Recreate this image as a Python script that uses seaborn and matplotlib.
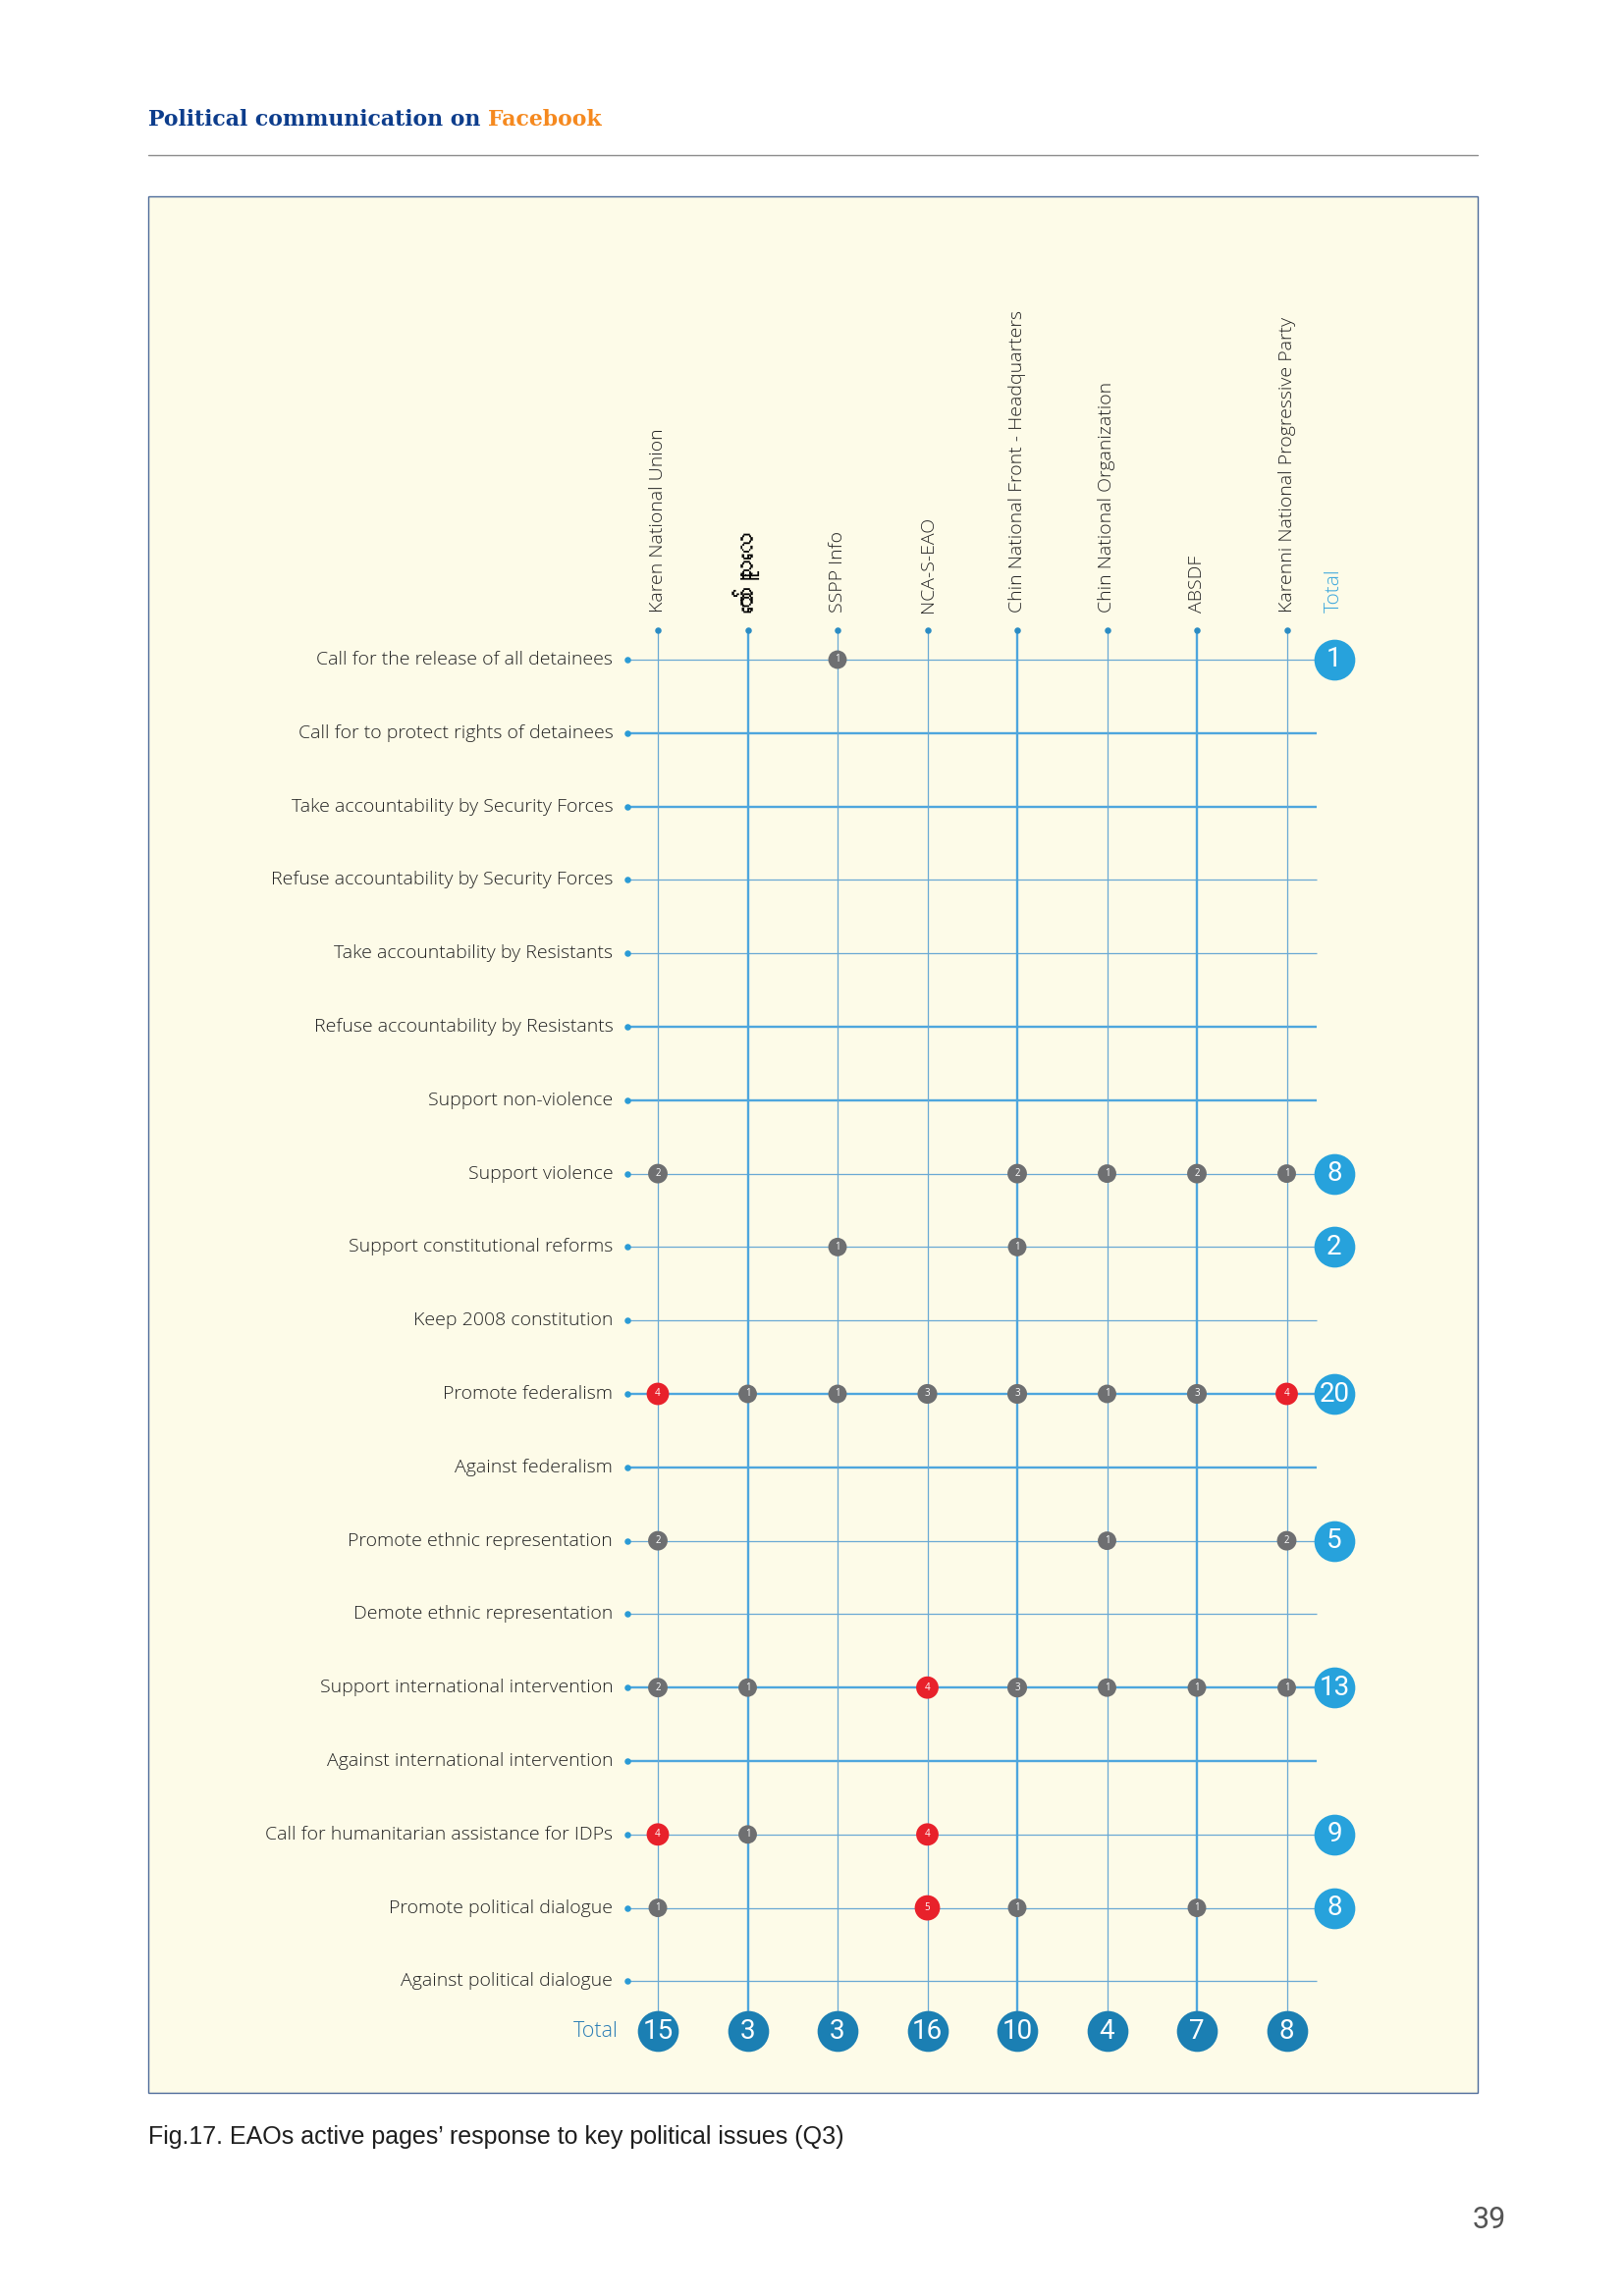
import matplotlib
matplotlib.use('Agg')
import matplotlib.pyplot as plt
import pandas as pd
import seaborn as sns
from matplotlib import font_manager
from matplotlib.ft2font import FT2Font
from matplotlib.patches import Rectangle
from matplotlib.lines import Line2D

# Data
issues = ['Call for the release of all detainees',
          'Call for to protect rights of detainees',
          'Take accountability by Security Forces',
          'Refuse accountability by Security Forces',
          'Take accountability by Resistants',
          'Refuse accountability by Resistants',
          'Support non-violence',
          'Support violence',
          'Support constitutional reforms',
          'Keep 2008 constitution',
          'Promote federalism',
          'Against federalism',
          'Promote ethnic representation',
          'Demote ethnic representation',
          'Support international intervention',
          'Against international intervention',
          'Call for humanitarian assistance for IDPs',
          'Promote political dialogue',
          'Against political dialogue']
pages = ['Karen National Union', 'ကော်သူးလေ', 'SSPP Info', 'NCA-S-EAO',
         'Chin National Front - Headquarters', 'Chin National Organization',
         'ABSDF', 'Karenni National Progressive Party']

# posts per issue for each page (0 = none)
knu   = [0, 0, 0, 0, 0, 0, 0, 2, 0, 0, 4, 0, 2, 0, 2, 0, 4, 1, 0]
mm    = [0, 0, 0, 0, 0, 0, 0, 0, 0, 0, 1, 0, 0, 0, 1, 0, 1, 0, 0]
sspp  = [1, 0, 0, 0, 0, 0, 0, 0, 1, 0, 1, 0, 0, 0, 0, 0, 0, 0, 0]
nca   = [0, 0, 0, 0, 0, 0, 0, 0, 0, 0, 3, 0, 0, 0, 4, 0, 4, 5, 0]
cnf   = [0, 0, 0, 0, 0, 0, 0, 2, 1, 0, 3, 0, 0, 0, 3, 0, 0, 1, 0]
cno   = [0, 0, 0, 0, 0, 0, 0, 1, 0, 0, 1, 0, 1, 0, 1, 0, 0, 0, 0]
absdf = [0, 0, 0, 0, 0, 0, 0, 2, 0, 0, 3, 0, 0, 0, 1, 0, 0, 1, 0]
knpp  = [0, 0, 0, 0, 0, 0, 0, 1, 0, 0, 4, 0, 2, 0, 1, 0, 0, 0, 0]

counts = pd.DataFrame({p: c for p, c in zip(pages, [knu, mm, sspp, nca, cnf, cno, absdf, knpp])},
                      index=issues)

# long table of the cells with posts
df = counts.reset_index(names='issue').melt(id_vars='issue', var_name='page', value_name='n')
df = df[df['n'] > 0].copy()
df['x'] = df['page'].map({p: i for i, p in enumerate(pages)})
df['y'] = df['issue'].map({s: i for i, s in enumerate(issues)})
df['level'] = df['n'].apply(lambda v: 'high' if v >= 4 else 'low')

row_tot = counts.sum(axis=1)
col_tot = counts.sum(axis=0)


def find_myanmar_font():
    # look for any installed family that covers the Myanmar block
    for f in font_manager.fontManager.ttflist:
        try:
            if 0x1000 in FT2Font(f.fname).get_charmap():
                return f.name
        except Exception:
            pass
    return None


# Style
sns.set_theme(style='white')
plt.rcParams['font.family'] = ['Open Sans', 'DejaVu Sans']
mm_font = find_myanmar_font()
label_fam = ['Open Sans', 'DejaVu Sans'] + ([mm_font] if mm_font else [])

W, H = 1654, 2339
fig = plt.figure(figsize=(W / 100, H / 100), dpi=100)
fig.patch.set_facecolor('white')

# panel box
fig.patches.append(Rectangle((151 / W, 1 - 2132 / H), (1505 - 151) / W, (2132 - 200) / H,
                             transform=fig.transFigure, facecolor='#fdfbe8',
                             edgecolor='#4d6b99', lw=1.0, zorder=-5))

# header
t1 = fig.text(151 / W, 1 - 122 / H, 'Political communication on ', family='DejaVu Serif',
              fontweight='bold', fontsize=15.8, color='#0d3d8c', va='center')
fig.canvas.draw()
bb = t1.get_window_extent()
fig.text(bb.x1 / W, 1 - 122 / H, 'Facebook', family='DejaVu Serif', fontweight='bold',
         fontsize=15.8, color='#f5891f', va='center')
fig.add_artist(Line2D([151 / W, 1505 / W], [1 - 158 / H] * 2, color='#8c8c8c', lw=1.0))

ax = fig.add_axes([578.5 / W, 1 - 2130.6 / H, 915 / W, (2130.6 - 597.2) / H])
ax.set_zorder(2)
ax.set_xlim(-1, 9)
ax.set_ylim(19.5, -1)
ax.axis('off')
ax.patch.set_alpha(0)

tot_x = 7.53
tot_y = 18.68
line_left = -0.34
line_right = 7.33
col_top = -0.40

thick_cols = [1, 4, 6]
thick_rows = [1, 2, 5, 6, 10, 11, 14, 15]

for j in range(len(issues)):
    thick = j in thick_rows
    ax.hlines(j, line_left, line_right, color='#4ea6dd' if thick else '#6aa9d4',
              lw=1.7 if thick else 0.9, zorder=1)
    ax.text(line_left - 0.16, j, issues[j], ha='right', va='center', fontsize=14,
            fontweight='light', color='#222222')
for i in range(len(pages)):
    thick = i in thick_cols
    ax.vlines(i, col_top, tot_y, color='#4ea6dd' if thick else '#6aa9d4',
              lw=1.7 if thick else 0.9, zorder=1)
    is_mm = any(0x1000 <= ord(ch) < 0x10A0 for ch in pages[i])
    ax.text(i, col_top - 0.24, pages[i], rotation=90, ha='center', va='bottom',
            fontsize=20 if is_mm else 14, fontweight='bold' if is_mm else 'light',
            color='#000000' if is_mm else '#222222', family=label_fam)

# small end dots
ax.scatter([line_left] * len(issues), range(len(issues)), s=22, color='#2b9bd6', zorder=2, lw=0)
ax.scatter(range(len(pages)), [col_top] * len(pages), s=22, color='#2b8cc4', zorder=2, lw=0)

# cell bubbles
sns.scatterplot(data=df, x='x', y='y', hue='level', size='n',
                sizes={1: 185, 2: 205, 3: 210, 4: 270, 5: 345},
                palette={'low': '#6e6f71', 'high': '#e8212b'},
                linewidth=0, legend=False, ax=ax, zorder=3)
for _, r in df.iterrows():
    ax.text(r['x'], r['y'], str(r['n']), ha='center', va='center', fontsize=7,
            color='white', zorder=4)

# totals
rt = row_tot[row_tot > 0]
rt_y = [issues.index(s) for s in rt.index]
sns.scatterplot(x=[tot_x] * len(rt), y=rt_y, s=900, color='#27a2dc', linewidth=0,
                ax=ax, zorder=3)
for yy, v in zip(rt_y, rt.values):
    ax.text(tot_x, yy, str(v), ha='center', va='center', fontsize=20, color='white',
            family=['Liberation Sans Narrow', 'Roboto'], fontweight='normal', zorder=4)

sns.scatterplot(x=range(len(pages)), y=[tot_y] * len(pages), s=900, color='#1b7fb3',
                linewidth=0, ax=ax, zorder=3)
for xx, v in enumerate(col_tot.values):
    ax.text(xx, tot_y, str(v), ha='center', va='center', fontsize=20, color='white',
            family=['Liberation Sans Narrow', 'Roboto'], fontweight='normal', zorder=4)

ax.text(tot_x, col_top - 0.24, 'Total', rotation=90, ha='center', va='bottom',
        fontsize=15, fontweight='light', color='#3aa6dc')
ax.text(-0.44, tot_y, 'Total', ha='right', va='center', fontsize=15.5,
        fontweight='light', color='#2a7db5')

# caption and page number
fig.text(151 / W, 1 - 2177 / H, 'Fig.17. EAOs active pages\u2019 response to key political issues (Q3)',
         family='Liberation Sans', fontsize=18, color='#1e1e1e', va='center')
fig.text(1517 / W, 1 - 2262 / H, '39', family=['Liberation Sans Narrow', 'Roboto'],
         fontsize=22, color='#555555', ha='center', va='center')

fig.savefig('out.png', dpi=100)
